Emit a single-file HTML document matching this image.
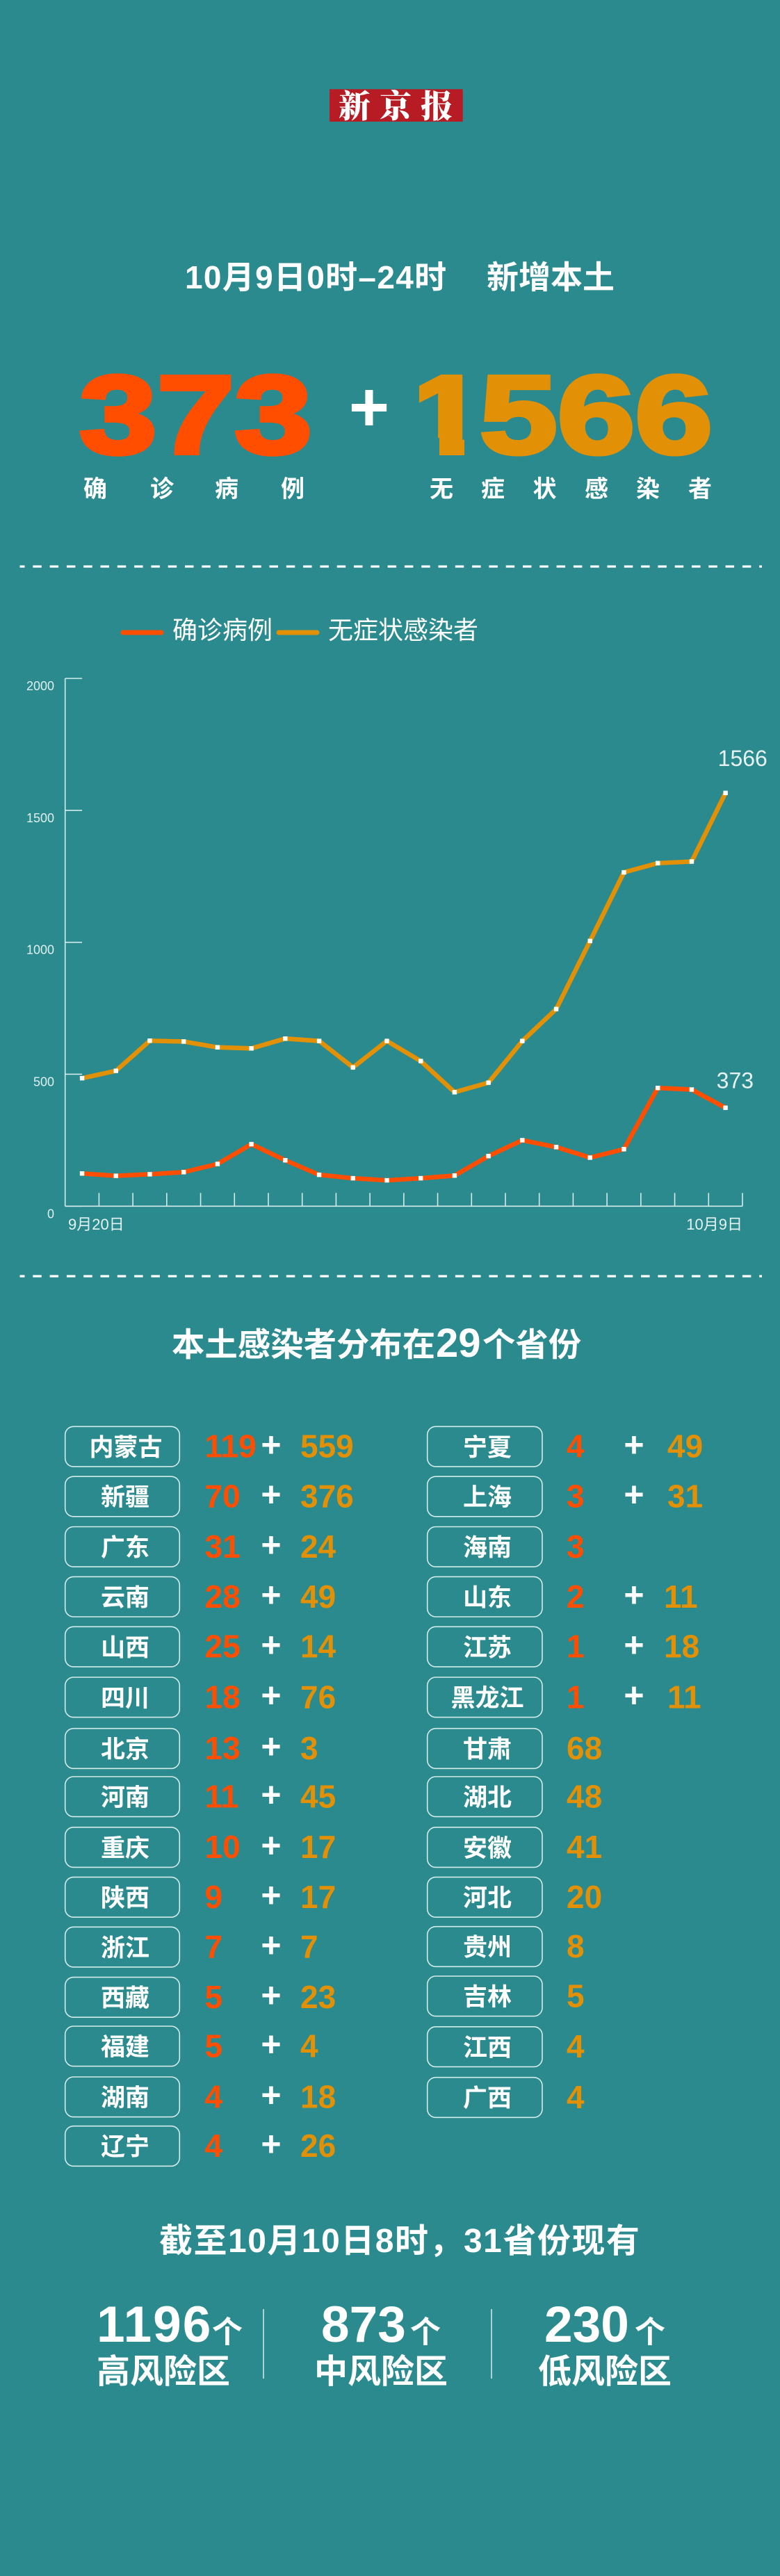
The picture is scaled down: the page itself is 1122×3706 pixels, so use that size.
<!DOCTYPE html>
<html lang="zh-CN">
<head>
<meta charset="utf-8">
<title>10月9日新增本土</title>
<style>
html,body{margin:0;padding:0;background:#2a8a8d;}
svg{display:block;position:absolute;left:0;top:0;}
text{font-family:"Liberation Sans","Noto Sans CJK SC",sans-serif;}
.b{font-weight:700;fill:#fff;}
.big{font-weight:700;font-size:160px;stroke-width:6px;}
.lab{font-weight:700;font-size:34px;fill:#fff;text-anchor:middle;}
.pill{fill:none;stroke:#d4ecea;stroke-width:1.6;}
.pn{font-weight:700;font-size:35px;fill:#fff;text-anchor:middle;}
.r{font-weight:700;font-size:46px;fill:#ff4e00;}
.o{font-weight:700;font-size:46px;fill:#e29006;}
.p{font-weight:700;font-size:50px;fill:#fff;text-anchor:middle;}
.tick{stroke:#d4ecea;stroke-width:1.6;fill:none;}
.ax{font-size:18px;fill:#dff0ef;text-anchor:end;}
.dl{font-size:22px;fill:#e6f3f2;}
.ev{font-size:32px;fill:#e6f3f2;}
.lg{font-size:36px;fill:#fff;}
.dash{stroke:#fff;stroke-width:3.2;stroke-dasharray:12.5 11.8;stroke-dashoffset:5.5;}
.rn{font-weight:700;font-size:73px;fill:#fff;}
.ru{font-weight:700;font-size:44px;fill:#fff;}
.rl{font-weight:700;font-size:48px;fill:#fff;}
</style>
</head>
<body>
<svg id="page" xmlns="http://www.w3.org/2000/svg" width="1122" height="3706" viewBox="0 0 1122 3706">
<defs>
<clipPath id="one-clip"><rect x="603" y="500" width="87" height="130"/><rect x="632" y="630" width="36" height="40"/></clipPath>
</defs>
<rect x="0" y="0" width="1122" height="3706" fill="#2a8a8d"/>

<g>
<rect x="474" y="128.3" width="191.7" height="46.7" fill="#b71c25"/>
<text x="487" y="169" style="font-family:'Noto Serif CJK SC','Liberation Serif',serif;font-weight:900;font-size:46px;letter-spacing:13px;fill:#fff;">新京报</text>
</g>

<text class="b" x="266" y="415" style="font-size:46px;letter-spacing:1.3px;">10月9日0时–24时</text>
<text class="b" x="700" y="415" style="font-size:46px;">新增本土</text>

<text class="big" transform="translate(114,652) scale(1.255,1)" fill="#ff4e00" stroke="#ff4e00">373</text>
<text class="b" x="531" y="620" text-anchor="middle" style="font-size:100px;">+</text>
<g>
<g clip-path="url(#one-clip)"><text class="big" transform="translate(587,652) scale(1.255,1)" fill="#e29006" stroke="#e29006">1</text></g>
<text class="big" transform="translate(690,652) scale(1.255,1)" fill="#e29006" stroke="#e29006">566</text>
</g>

<g>
<text class="lab" x="137" y="715">确</text><text class="lab" x="233" y="715">诊</text><text class="lab" x="326" y="715">病</text><text class="lab" x="421" y="715">例</text>
</g>
<g>
<text class="lab" x="635" y="715">无</text><text class="lab" x="709" y="715">症</text><text class="lab" x="783.5" y="715">状</text><text class="lab" x="858" y="715">感</text><text class="lab" x="932" y="715">染</text><text class="lab" x="1007" y="715">者</text>
</g>

<line class="dash" x1="28.5" y1="815" x2="1096" y2="815"/>

<g>
<line x1="177" y1="910" x2="232" y2="910" stroke="#ff4e00" stroke-width="7" stroke-linecap="round"/>
<text class="lg" x="248" y="919">确诊病例</text>
<line x1="401" y1="910" x2="456" y2="910" stroke="#e29006" stroke-width="7" stroke-linecap="round"/>
<text class="lg" x="472" y="919">无症状感染者</text>
</g>

<g id="chart"></g>

<line class="dash" x1="28.5" y1="1836" x2="1096" y2="1836"/>

<g>
<text class="b" x="247" y="1951" style="font-size:47.4px;">本土感染者分布在</text>
<text class="b" x="627" y="1952" style="font-size:58px;">29</text>
<text class="b" x="694" y="1951" style="font-size:47.4px;">个省份</text>
</g>

<!-- left column -->
<g transform="translate(0,2052.3)"><rect class="pill" x="93.7" y="0" width="164.6" height="57.6" rx="12"/><text class="pn" x="181" y="42">内蒙古</text><text class="r" x="294.5" y="44.4">119</text><text class="p" x="390" y="43">+</text><text class="o" x="432" y="44.4">559</text></g>
<g transform="translate(0,2124.2)"><rect class="pill" x="93.7" y="0" width="164.6" height="57.6" rx="12"/><text class="pn" x="180" y="42">新疆</text><text class="r" x="294.5" y="44.4">70</text><text class="p" x="390" y="43">+</text><text class="o" x="432" y="44.4">376</text></g>
<g transform="translate(0,2196.5)"><rect class="pill" x="93.7" y="0" width="164.6" height="57.6" rx="12"/><text class="pn" x="180" y="42">广东</text><text class="r" x="294.5" y="44.4">31</text><text class="p" x="390" y="43">+</text><text class="o" x="432" y="44.4">24</text></g>
<g transform="translate(0,2268.4)"><rect class="pill" x="93.7" y="0" width="164.6" height="57.6" rx="12"/><text class="pn" x="180" y="42">云南</text><text class="r" x="294.5" y="44.4">28</text><text class="p" x="390" y="43">+</text><text class="o" x="432" y="44.4">49</text></g>
<g transform="translate(0,2340.3)"><rect class="pill" x="93.7" y="0" width="164.6" height="57.6" rx="12"/><text class="pn" x="180" y="42">山西</text><text class="r" x="294.5" y="44.4">25</text><text class="p" x="390" y="43">+</text><text class="o" x="432" y="44.4">14</text></g>
<g transform="translate(0,2413)"><rect class="pill" x="93.7" y="0" width="164.6" height="57.6" rx="12"/><text class="pn" x="180" y="42">四川</text><text class="r" x="294.5" y="44.4">18</text><text class="p" x="390" y="43">+</text><text class="o" x="432" y="44.4">76</text></g>
<g transform="translate(0,2486.7)"><rect class="pill" x="93.7" y="0" width="164.6" height="57.6" rx="12"/><text class="pn" x="180" y="42">北京</text><text class="r" x="294.5" y="44.4">13</text><text class="p" x="390" y="43">+</text><text class="o" x="432" y="44.4">3</text></g>
<g transform="translate(0,2556)"><rect class="pill" x="93.7" y="0" width="164.6" height="57.6" rx="12"/><text class="pn" x="180" y="42">河南</text><text class="r" x="294.5" y="44.4">11</text><text class="p" x="390" y="43">+</text><text class="o" x="432" y="44.4">45</text></g>
<g transform="translate(0,2628.8)"><rect class="pill" x="93.7" y="0" width="164.6" height="57.6" rx="12"/><text class="pn" x="180" y="42">重庆</text><text class="r" x="294.5" y="44.4">10</text><text class="p" x="390" y="43">+</text><text class="o" x="432" y="44.4">17</text></g>
<g transform="translate(0,2700.6)"><rect class="pill" x="93.7" y="0" width="164.6" height="57.6" rx="12"/><text class="pn" x="180" y="42">陕西</text><text class="r" x="294.5" y="44.4">9</text><text class="p" x="390" y="43">+</text><text class="o" x="432" y="44.4">17</text></g>
<g transform="translate(0,2772.3)"><rect class="pill" x="93.7" y="0" width="164.6" height="57.6" rx="12"/><text class="pn" x="180" y="42">浙江</text><text class="r" x="294.5" y="44.4">7</text><text class="p" x="390" y="43">+</text><text class="o" x="432" y="44.4">7</text></g>
<g transform="translate(0,2844.6)"><rect class="pill" x="93.7" y="0" width="164.6" height="57.6" rx="12"/><text class="pn" x="180" y="42">西藏</text><text class="r" x="294.5" y="44.4">5</text><text class="p" x="390" y="43">+</text><text class="o" x="432" y="44.4">23</text></g>
<g transform="translate(0,2915)"><rect class="pill" x="93.7" y="0" width="164.6" height="57.6" rx="12"/><text class="pn" x="180" y="42">福建</text><text class="r" x="294.5" y="44.4">5</text><text class="p" x="390" y="43">+</text><text class="o" x="432" y="44.4">4</text></g>
<g transform="translate(0,2988)"><rect class="pill" x="93.7" y="0" width="164.6" height="57.6" rx="12"/><text class="pn" x="180" y="42">湖南</text><text class="r" x="294.5" y="44.4">4</text><text class="p" x="390" y="43">+</text><text class="o" x="432" y="44.4">18</text></g>
<g transform="translate(0,3058.7)"><rect class="pill" x="93.7" y="0" width="164.6" height="57.6" rx="12"/><text class="pn" x="180" y="42">辽宁</text><text class="r" x="294.5" y="44.4">4</text><text class="p" x="390" y="43">+</text><text class="o" x="432" y="44.4">26</text></g>

<!-- right column -->
<g transform="translate(0,2052.3)"><rect class="pill" x="614.7" y="0" width="165.3" height="57.6" rx="12"/><text class="pn" x="701" y="42">宁夏</text><text class="r" x="815" y="44.4">4</text><text class="p" x="912" y="43">+</text><text class="o" x="960" y="44.4">49</text></g>
<g transform="translate(0,2124.2)"><rect class="pill" x="614.7" y="0" width="165.3" height="57.6" rx="12"/><text class="pn" x="701" y="42">上海</text><text class="r" x="815" y="44.4">3</text><text class="p" x="912" y="43">+</text><text class="o" x="960" y="44.4">31</text></g>
<g transform="translate(0,2196.5)"><rect class="pill" x="614.7" y="0" width="165.3" height="57.6" rx="12"/><text class="pn" x="701" y="42">海南</text><text class="r" x="815" y="44.4">3</text></g>
<g transform="translate(0,2268.4)"><rect class="pill" x="614.7" y="0" width="165.3" height="57.6" rx="12"/><text class="pn" x="701" y="42">山东</text><text class="r" x="815" y="44.4">2</text><text class="p" x="912" y="43">+</text><text class="o" x="955" y="44.4">11</text></g>
<g transform="translate(0,2340.3)"><rect class="pill" x="614.7" y="0" width="165.3" height="57.6" rx="12"/><text class="pn" x="701" y="42">江苏</text><text class="r" x="815" y="44.4">1</text><text class="p" x="912" y="43">+</text><text class="o" x="955" y="44.4">18</text></g>
<g transform="translate(0,2413)"><rect class="pill" x="614.7" y="0" width="165.3" height="57.6" rx="12"/><text class="pn" x="701" y="42">黑龙江</text><text class="r" x="815" y="44.4">1</text><text class="p" x="912" y="43">+</text><text class="o" x="960" y="44.4">11</text></g>
<g transform="translate(0,2486.7)"><rect class="pill" x="614.7" y="0" width="165.3" height="57.6" rx="12"/><text class="pn" x="701" y="42">甘肃</text><text class="o" x="815" y="44.4">68</text></g>
<g transform="translate(0,2556)"><rect class="pill" x="614.7" y="0" width="165.3" height="57.6" rx="12"/><text class="pn" x="701" y="42">湖北</text><text class="o" x="815" y="44.4">48</text></g>
<g transform="translate(0,2628.8)"><rect class="pill" x="614.7" y="0" width="165.3" height="57.6" rx="12"/><text class="pn" x="701" y="42">安徽</text><text class="o" x="815" y="44.4">41</text></g>
<g transform="translate(0,2700.6)"><rect class="pill" x="614.7" y="0" width="165.3" height="57.6" rx="12"/><text class="pn" x="701" y="42">河北</text><text class="o" x="815" y="44.4">20</text></g>
<g transform="translate(0,2771.7)"><rect class="pill" x="614.7" y="0" width="165.3" height="57.6" rx="12"/><text class="pn" x="701" y="42">贵州</text><text class="o" x="815" y="44.4">8</text></g>
<g transform="translate(0,2843)"><rect class="pill" x="614.7" y="0" width="165.3" height="57.6" rx="12"/><text class="pn" x="701" y="42">吉林</text><text class="o" x="815" y="44.4">5</text></g>
<g transform="translate(0,2915.8)"><rect class="pill" x="614.7" y="0" width="165.3" height="57.6" rx="12"/><text class="pn" x="701" y="42">江西</text><text class="o" x="815" y="44.4">4</text></g>
<g transform="translate(0,2988.7)"><rect class="pill" x="614.7" y="0" width="165.3" height="57.6" rx="12"/><text class="pn" x="701" y="42">广西</text><text class="o" x="815" y="44.4">4</text></g>

<text class="b" x="229" y="3240" style="font-size:48px;letter-spacing:1.5px;">截至10月10日8时，31省份现有</text>

<g>
<text class="rn" x="139" y="3369" style="letter-spacing:2px;">1196</text>
<text class="ru" x="305" y="3370">个</text>
<text class="rl" x="139" y="3428">高风险区</text>
</g>
<line x1="379" y1="3322" x2="379" y2="3422" stroke="#d4ecea" stroke-width="1.5"/>
<g>
<text class="rn" x="462" y="3369">873</text>
<text class="ru" x="590" y="3370">个</text>
<text class="rl" x="452" y="3428">中风险区</text>
</g>
<line x1="707" y1="3322" x2="707" y2="3422" stroke="#d4ecea" stroke-width="1.5"/>
<g>
<text class="rn" x="783" y="3369">230</text>
<text class="ru" x="913" y="3370">个</text>
<text class="rl" x="774" y="3428">低风险区</text>
</g>
</svg>

<script>
const categories = ["9月20日","9月21日","9月22日","9月23日","9月24日","9月25日","9月26日","9月27日","9月28日","9月29日","9月30日","10月1日","10月2日","10月3日","10月4日","10月5日","10月6日","10月7日","10月8日","10月9日"];
const confirmedValues = [124,115,121,129,160,235,174,119,106,98,106,116,190,250,224,184,216,448,442,373];
const asymptomaticValues = [485,513,627,624,602,598,635,626,526,626,550,432,468,626,747,1005,1265,1300,1306,1566];
const yTickValues = [0,500,1000,1500,2000];
const xTickLabels = ["9月20日","10月9日"];

const NS = "http://www.w3.org/2000/svg";
const chart = document.getElementById("chart");
const plot = {left: 93.7, right: 1068, top: 976, bottom: 1735.3, yMax: 2000};
const bandWidth = (plot.right - plot.left) / categories.length;
function xBand(i) { return plot.left + i * bandWidth; }
function xScale(i) { return plot.left + (i + 0.5) * bandWidth; }
function yScale(v) { return plot.bottom - (v / plot.yMax) * (plot.bottom - plot.top); }
function make(tag, attrs, text) {
  const el = document.createElementNS(NS, tag);
  for (const k in attrs) el.setAttribute(k, attrs[k]);
  if (text !== undefined) el.textContent = text;
  chart.appendChild(el);
  return el;
}

const yAxis = make("line", {class: "tick", x1: plot.left, y1: plot.top, x2: plot.left, y2: plot.bottom});


const xAxis = make("line", {class: "tick", x1: plot.left, y1: plot.bottom, x2: plot.right, y2: plot.bottom});



yTickValues.forEach(function (v) {
  const t = make("line", {class: "tick", x1: plot.left, y1: yScale(v), x2: plot.left + bandWidth / 2, y2: yScale(v)});
  
  
  const l = make("text", {class: "ax", x: 78, y: yScale(v) + 17}, String(v));
  
  
});

for (let i = 1; i <= categories.length; i++) {
  const t = make("line", {class: "tick", x1: xBand(i), y1: plot.bottom - 19, x2: xBand(i), y2: plot.bottom});
  
  
}

const firstLabel = make("text", {class: "dl", x: 98, y: 1769}, xTickLabels[0]);


const lastLabel = make("text", {class: "dl", x: 1068, y: 1769, "text-anchor": "end"}, xTickLabels[1]);



function pointsFor(values) {
  return values.map(function (v, i) { return xScale(i).toFixed(1) + "," + yScale(v).toFixed(1); }).join(" ");
}

const asymLine = make("polyline", {points: pointsFor(asymptomaticValues), fill: "none", stroke: "#e29006", "stroke-width": 6.5, "stroke-linejoin": "miter"});


const confLine = make("polyline", {points: pointsFor(confirmedValues), fill: "none", stroke: "#ff4e00", "stroke-width": 6.5, "stroke-linejoin": "miter"});



asymptomaticValues.forEach(function (v, i) {
  const m = make("rect", {x: xScale(i) - 3.2, y: yScale(v) - 3.2, width: 6.4, height: 6.4, fill: "#fff"});
  
  
});
confirmedValues.forEach(function (v, i) {
  const m = make("rect", {x: xScale(i) - 3.2, y: yScale(v) - 3.2, width: 6.4, height: 6.4, fill: "#fff"});
  
  
});

const lastAsym = asymptomaticValues[asymptomaticValues.length - 1];
const lastConf = confirmedValues[confirmedValues.length - 1];
const asymValueLabel = make("text", {class: "ev", x: xScale(categories.length - 1) - 11, y: yScale(lastAsym) - 39}, String(lastAsym));


const confValueLabel = make("text", {class: "ev", x: xScale(categories.length - 1) - 13, y: yScale(lastConf) - 28}, String(lastConf));


</script>
</body>
</html>
